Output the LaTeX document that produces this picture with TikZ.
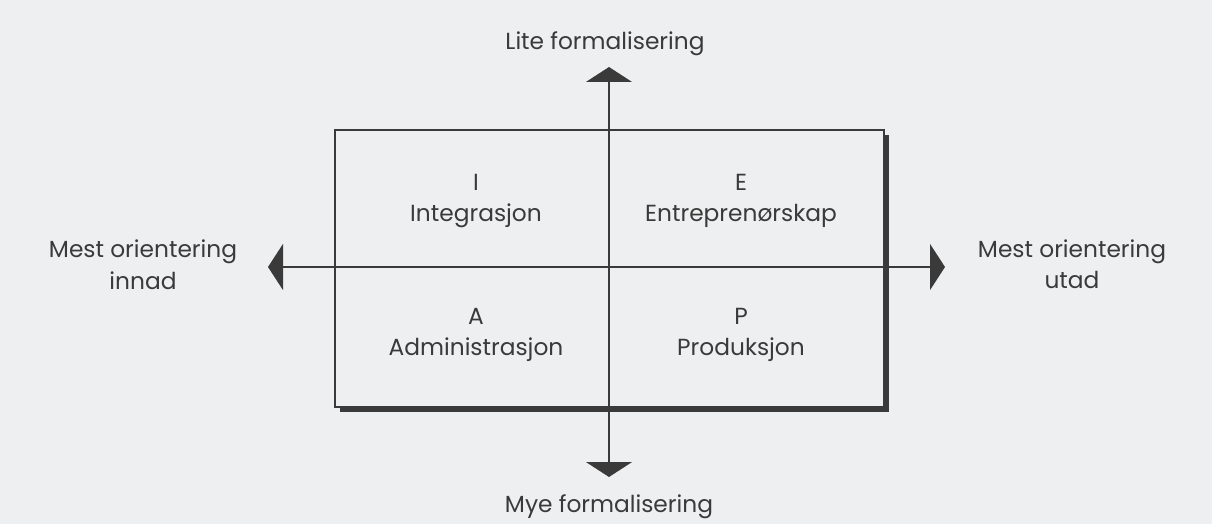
\documentclass[tikz,border=0pt]{standalone}
\usepackage{fontspec}
\setmainfont{Poppins}
\usepackage{tikz}
\usetikzlibrary{positioning}
\usetikzlibrary{arrows.meta}
\usetikzlibrary{shadows}
\definecolor{paper}{RGB}{238,239,240}
\definecolor{ink}{RGB}{58,58,58}

\begin{document}
\begin{tikzpicture}
    [
    x=1pt, y=-1pt,
    lbl/.style={text=ink, font=\fontsize{23.3}{30}\selectfont, inner sep=0pt, anchor=base},
    frame/.style={draw=ink, line width=2pt, fill=paper,
      minimum width=549pt, minimum height=277pt,
      drop shadow={shadow xshift=5pt, shadow yshift=-5pt, fill=ink, opacity=1}},
    axis/.style={draw=ink, line width=1.6pt, {Triangle[length=15pt,width=46pt]}-{Triangle[length=15pt,width=46pt]}},
    ]
    \fill [paper] (0,0) rectangle (1212,524);
    \useasboundingbox (0,0) rectangle (1212,524);

    \node (box) at (609.5,268.5) [frame] {};

    \coordinate (top) at (609,67);
    \coordinate (bottom) at (609,477);
    \coordinate (west) at (268,267);
    \coordinate (east) at (945,267);
    \draw [axis] (bottom) to (top);
    \draw [axis] (west) to (east);

    \node (lite) at (605,50) [lbl] {Lite formalisering};
    \node (mye) at (609,512) [lbl] {Mye formalisering};
    \node (inn1) at (143,257) [lbl] {Mest orientering};
    \node (inn2) [lbl, below=32pt of inn1.base, anchor=base] {innad};
    \node (ut1) at (1072,257) [lbl] {Mest orientering};
    \node (ut2) [lbl, below=31pt of ut1.base, anchor=base] {utad};

    \node (qI) at (476,190) [lbl] {I};
    \node (qIname) [lbl, below=31pt of qI.base, anchor=base] {Integrasjon};
    \node (qE) at (741,190) [lbl] {E};
    \node (qEname) [lbl, below=31pt of qE.base, anchor=base] {Entreprenørskap};
    \node (qA) at (476,324) [lbl] {A};
    \node (qAname) [lbl, below=31pt of qA.base, anchor=base] {Administrasjon};
    \node (qP) at (741,324) [lbl] {P};
    \node (qPname) [lbl, below=31pt of qP.base, anchor=base] {Produksjon};
  \end{tikzpicture}
\end{document}
